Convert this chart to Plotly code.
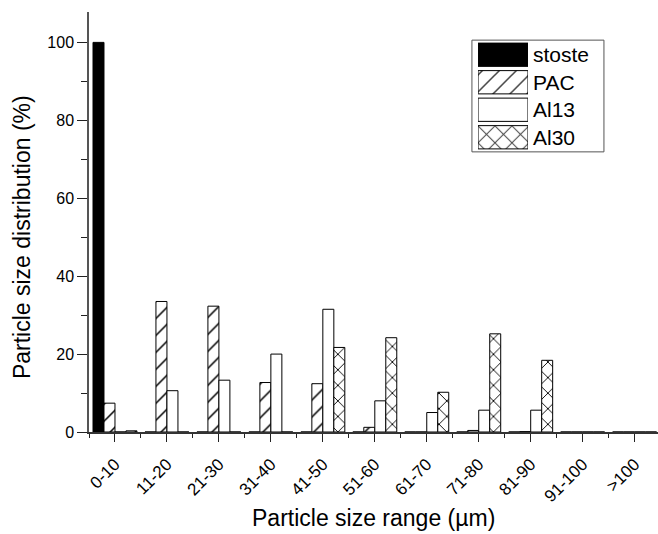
import plotly.graph_objects as go

categories = ["0-10", "11-20", "21-30", "31-40", "41-50", "51-60",
              "61-70", "71-80", "81-90", "91-100", ">100"]
stoste = [100, 0, 0, 0, 0, 0, 0, 0, 0, 0, 0]
pac = [7.4, 33.5, 32.3, 12.7, 12.4, 1.2, 0, 0.4, 0.1, 0, 0]
al13 = [0, 10.6, 13.3, 20.0, 31.5, 8.0, 5.0, 5.6, 5.6, 0, 0]
al30 = [0.3, 0, 0, 0, 21.7, 24.2, 10.2, 25.2, 18.4, 0, 0]
series_names = ["stoste", "PAC", "Al13", "Al30"]
y_ticks = [0, 20, 40, 60, 80, 100]

FONT = "Liberation Sans, Arial, Helvetica, sans-serif"
x_pos = list(range(len(categories)))

styles = {
    "stoste": dict(color="black", pattern=dict(shape="")),
    "PAC": dict(color="white", pattern=dict(shape="/", fgcolor="black", bgcolor="white",
                                            fgopacity=1, size=12, solidity=0.13)),
    "Al13": dict(color="white", pattern=dict(shape="")),
    "Al30": dict(color="white", pattern=dict(shape="x", fgcolor="black", bgcolor="white",
                                             fgopacity=1, size=11, solidity=0.16)),
}

fig = go.Figure()
for name, vals in zip(series_names, [stoste, pac, al13, al30]):
    st = styles[name]
    fig.add_trace(go.Bar(
        x=x_pos, y=vals, name=name, showlegend=False,
        marker=dict(color=st["color"], pattern=st["pattern"],
                    line=dict(color="black", width=1)),
        xaxis="x", yaxis="y",
    ))

# legend swatches drawn as a small bar subplot
fig.add_trace(go.Bar(
    y=series_names, x=[1] * len(series_names), orientation="h", showlegend=False,
    marker=dict(
        color=["black", "white", "white", "white"],
        pattern=dict(shape=["", "/", "", "x"], fgcolor="black", bgcolor="white",
                     fgopacity=1, size=12, solidity=[0, 0.13, 0, 0.16]),
        line=dict(color="black", width=1),
    ),
    xaxis="x2", yaxis="y2", offsetgroup="leg",
))

fig.update_layout(
    width=658, height=534,
    margin=dict(l=89, r=0, t=12, b=102),
    paper_bgcolor="white", plot_bgcolor="white",
    barmode="group", bargap=0.154, bargroupgap=0,
    font=dict(family=FONT, color="black"),
    xaxis=dict(
        domain=[0, 1], range=[-0.5, 10.45],
        tickmode="array", tickvals=x_pos, ticktext=categories, tickangle=-45,
        tickfont=dict(size=17), ticklabelstandoff=6,
        ticks="outside", ticklen=8, tickwidth=1.2, tickcolor="#222",
        minor=dict(tick0=0.5, dtick=1, ticks="outside", ticklen=4, tickwidth=1.2, tickcolor="#222"),
        showline=True, linecolor="#333", linewidth=1.5,
        showgrid=False, zeroline=False,
    ),
    yaxis=dict(
        domain=[0, 1], range=[0, 107.8],
        tickmode="array", tickvals=y_ticks,
        tickfont=dict(size=16),
        ticks="outside", ticklen=10, tickwidth=1.2, tickcolor="#222",
        minor=dict(tick0=10, dtick=20, ticks="outside", ticklen=6, tickwidth=1.2, tickcolor="#222"),
        showline=True, linecolor="#555", linewidth=1.5,
        showgrid=False, zeroline=False,
    ),
    xaxis2=dict(domain=[0.6837, 0.7715], anchor="y2", range=[0, 1], visible=False, fixedrange=True),
    yaxis2=dict(domain=[0.669, 0.931], anchor="x2", type="category",
                categoryorder="array", categoryarray=series_names, autorange="reversed",
                side="right", ticks="", showline=False, showgrid=False, zeroline=False,
                tickfont=dict(size=21), ticklabelstandoff=4),
    shapes=[dict(type="rect", xref="paper", yref="paper",
                 x0=0.673, x1=0.905, y0=0.667, y1=0.933,
                 line=dict(color="#555", width=1), fillcolor="rgba(0,0,0,0)", layer="below")],
    annotations=[
        dict(text="Particle size range (µm)", xref="paper", yref="paper",
             x=0.5, y=-0.2048, xanchor="center", yanchor="middle",
             showarrow=False, font=dict(size=23)),
        dict(text="Particle size distribution (%)", xref="paper", yref="paper",
             x=-0.1178, y=0.464, xanchor="center", yanchor="middle", textangle=-90,
             showarrow=False, font=dict(size=23)),
    ],
)

fig.write_html(
    "out.html",
    config={"displayModeBar": False},
    post_script="document.body.style.margin='0';document.body.style.overflow='hidden';",
)
